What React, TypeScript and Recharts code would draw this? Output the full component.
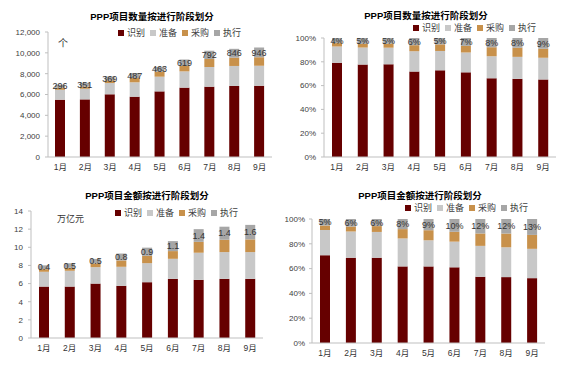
import React from 'react';
import { BarChart, Bar, XAxis, YAxis, LabelList } from 'recharts';

const months = ['1月', '2月', '3月', '4月', '5月', '6月', '7月', '8月', '9月'];
const seriesNames = ['识别', '准备', '采购', '执行'];
const colors = ['#660000', '#C8C8C8', '#C8914B', '#A6A6A6'];

// Project count (个)
const countIdentify = [5500, 5530, 6020, 5790, 6300, 6660, 6750, 6820, 6850];
const countPrepare = [950, 1020, 1080, 1380, 1410, 1560, 1890, 1920, 1920];
const countProcure = [200, 220, 260, 410, 480, 520, 770, 800, 800];
const countExecute = [296, 351, 369, 487, 463, 619, 792, 846, 946];

// Project amount (万亿元)
const amtIdentify = [5.67, 5.67, 6.0, 5.75, 6.15, 6.52, 6.41, 6.52, 6.52];
const amtPrepare = [1.63, 1.74, 1.81, 2.1, 2.1, 2.21, 2.99, 2.95, 2.95];
const amtProcure = [0.29, 0.33, 0.41, 0.7, 0.81, 0.85, 1.2, 1.36, 1.4];
const amtExecute = [0.42, 0.5, 0.5, 0.76, 0.9, 1.1, 1.4, 1.44, 1.6];

const countTicks = [0, 2000, 4000, 6000, 8000, 10000, 12000];
const amtTicks = [0, 2, 4, 6, 8, 10, 12, 14];
const pctTicks = [0, 0.2, 0.4, 0.6, 0.8, 1];

const FONT = "'Liberation Sans', Arial, 'Noto Sans CJK SC', sans-serif";

type Row = { m: string; a: number; b: number; c: number; d: number; lbl: string };

function buildRaw(a: number[], b: number[], c: number[], d: number[], fmt: (v: number) => string): Row[] {
  return months.map((m, i) => ({ m, a: a[i], b: b[i], c: c[i], d: d[i], lbl: fmt(d[i]) }));
}

function buildPct(a: number[], b: number[], c: number[], d: number[]): Row[] {
  return months.map((m, i) => {
    const t = a[i] + b[i] + c[i] + d[i];
    return {
      m,
      a: a[i] / t,
      b: b[i] / t,
      c: c[i] / t,
      d: d[i] / t,
      lbl: Math.round((d[i] / t) * 100) + '%',
    };
  });
}

const countData = buildRaw(countIdentify, countPrepare, countProcure, countExecute, (v) => String(v));
const countPct = buildPct(countIdentify, countPrepare, countProcure, countExecute);
const amtData = buildRaw(amtIdentify, amtPrepare, amtProcure, amtExecute, (v) => v.toFixed(1));
const amtPct = buildPct(amtIdentify, amtPrepare, amtProcure, amtExecute);

const fmtThousands = (v: number) => v.toLocaleString('en-US');
const fmtPct = (v: number) => Math.round(v * 100) + '%';
const fmtPlain = (v: number) => String(v);

function Legend({ x, y }: { x: number; y: number }) {
  return (
    <div
      style={{
        position: 'absolute',
        left: x,
        top: y - 6,
        display: 'flex',
        alignItems: 'center',
        fontSize: 9,
        fontFamily: FONT,
        color: '#404040',
        whiteSpace: 'nowrap',
        lineHeight: '12px',
      }}
    >
      {seriesNames.map((n, i) => (
        <div key={n} style={{ display: 'flex', alignItems: 'center', marginRight: i < 3 ? 5 : 0 }}>
          <span style={{ display: 'inline-block', width: 6, height: 6, background: colors[i], marginRight: 3 }} />
          <span>{n}</span>
        </div>
      ))}
    </div>
  );
}

function Title({ cx, cy, text }: { cx: number; cy: number; text: string }) {
  return (
    <div
      style={{
        position: 'absolute',
        left: cx - 100,
        top: cy - 7,
        width: 200,
        textAlign: 'center',
        fontSize: 9.5,
        fontWeight: 'bold',
        fontFamily: FONT,
        color: '#000',
        lineHeight: '14px',
        whiteSpace: 'nowrap',
      }}
    >
      {text}
    </div>
  );
}

type PanelProps = {
  left: number;
  top: number;
  width: number;
  height: number;
  data: Row[];
  plotLeft: number;
  plotRight: number;
  plotTop: number;
  plotBottom: number;
  domain: [number, number];
  ticks: number[];
  fmt: (v: number) => string;
  yMargin?: number;
};

function Panel(p: PanelProps) {
  const yWidth = p.plotLeft;
  const xHeight = p.height - p.plotBottom;
  return (
    <div style={{ position: 'absolute', left: p.left, top: p.top, width: p.width, height: p.height }}>
      <BarChart
        width={p.width}
        height={p.height}
        data={p.data}
        margin={{ top: p.plotTop, right: p.width - p.plotRight, bottom: 0, left: 0 }}
        barCategoryGap="0%"
      >
        <XAxis
          dataKey="m"
          height={xHeight}
          axisLine={{ stroke: '#BFBFBF' }}
          tickLine={false}
          tickSize={4}
          tickMargin={3}
          tick={{ fontSize: 8.5, fill: '#333333', fontFamily: FONT }}
          interval={0}
        />
        <YAxis
          width={yWidth}
          domain={p.domain}
          ticks={p.ticks}
          tickFormatter={p.fmt}
          allowDataOverflow
          axisLine={{ stroke: '#BFBFBF' }}
          tickLine={{ stroke: '#BFBFBF' }}
          tickSize={3}
          tickMargin={p.yMargin ?? 5}
          tick={{ fontSize: 8, fill: '#404040', fontFamily: FONT }}
          interval={0}
        />
        <Bar dataKey="a" stackId="s" fill={colors[0]} barSize={10} isAnimationActive={false} />
        <Bar dataKey="b" stackId="s" fill={colors[1]} barSize={10} isAnimationActive={false} />
        <Bar dataKey="c" stackId="s" fill={colors[2]} barSize={10} isAnimationActive={false} />
        <Bar dataKey="d" stackId="s" fill={colors[3]} barSize={10} isAnimationActive={false}>
          <LabelList dataKey="lbl" position="center" style={{ fontSize: 9, fill: '#333333', fontFamily: FONT }} />
        </Bar>
      </BarChart>
    </div>
  );
}

export default function App() {
  return (
    <div
      style={{
        position: 'absolute',
        left: 0,
        top: 0,
        width: 570,
        height: 365,
        background: '#ffffff',
        overflow: 'hidden',
        fontFamily: FONT,
      }}
    >
      <Panel
        left={0}
        top={0}
        width={285}
        height={180}
        data={countData}
        plotLeft={48}
        plotRight={272}
        plotTop={32}
        plotBottom={157}
        domain={[0, 12000]}
        ticks={countTicks}
        fmt={fmtThousands}
      />
      <Panel
        left={285}
        top={0}
        width={285}
        height={180}
        data={countPct}
        plotLeft={39}
        plotRight={271}
        plotTop={38}
        plotBottom={157}
        domain={[0, 1]}
        ticks={pctTicks}
        fmt={fmtPct}
      />
      <Panel
        left={0}
        top={180}
        width={285}
        height={185}
        data={amtData}
        plotLeft={31}
        plotRight={263}
        plotTop={31}
        plotBottom={158}
        domain={[0, 14]}
        ticks={amtTicks}
        fmt={fmtPlain}
      />
      <Panel
        left={285}
        top={180}
        width={285}
        height={185}
        data={amtPct}
        plotLeft={27}
        plotRight={260}
        plotTop={39}
        plotBottom={163}
        domain={[0, 1]}
        ticks={pctTicks}
        fmt={fmtPct}
        yMargin={4}
      />

      <Title cx={152} cy={17} text="PPP项目数量按进行阶段划分" />
      <Title cx={426} cy={16} text="PPP项目数量按进行阶段划分" />
      <Title cx={147} cy={196} text="PPP项目金额按进行阶段划分" />
      <Title cx={420} cy={196} text="PPP项目金额按进行阶段划分" />

      <Legend x={118} y={33} />
      <Legend x={413} y={28} />
      <Legend x={115} y={213} />
      <Legend x={405} y={208} />

      <div style={{ position: 'absolute', left: 58, top: 35, fontSize: 10, color: '#333', fontFamily: FONT }}>个</div>
      <div style={{ position: 'absolute', left: 57, top: 212, fontSize: 9, color: '#333', fontFamily: FONT }}>万亿元</div>
    </div>
  );
}
